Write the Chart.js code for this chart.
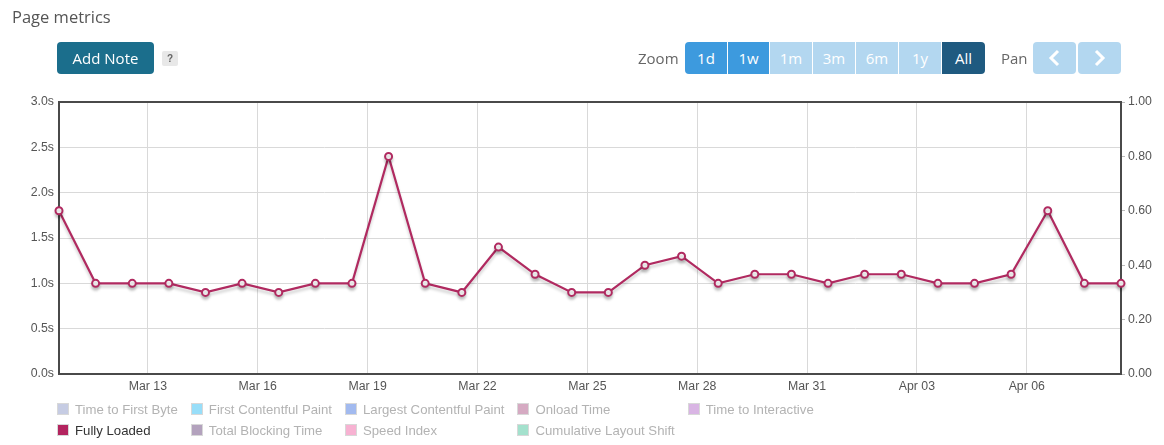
<!DOCTYPE html>
<html>
<head>
<meta charset="utf-8">
<script src="https://cdn.jsdelivr.net/npm/chart.js@4/dist/chart.umd.min.js"></script>
<style>
  html,body{margin:0;padding:0;background:#fff;}
  body{width:1164px;height:445px;position:relative;overflow:hidden;font-family:"Open Sans",sans-serif;}
  #c{position:absolute;left:0;top:0;width:1164px;height:445px;}
  .title{position:absolute;left:12px;top:5px;font-size:16.5px;color:#555;}
  .addnote{position:absolute;left:57px;top:42px;width:97px;height:32px;background:#1b6e8c;border-radius:4px;color:#fff;font-size:15px;line-height:32px;text-align:center;}
  .help{position:absolute;left:162px;top:51px;width:16px;height:15px;background:#e8e8e8;border-radius:2px;color:#666;font-size:10px;font-weight:bold;line-height:15px;text-align:center;font-family:"Liberation Sans",Arial,sans-serif;}
  .lbl{position:absolute;top:42px;height:32px;line-height:32px;font-size:15px;color:#666;}
  .zoom{position:absolute;left:685px;top:42px;height:32px;display:flex;border-radius:4px;overflow:hidden;}
  .zoom div{box-sizing:border-box;height:32px;line-height:32px;text-align:center;color:#fff;font-size:15px;border-left:1px solid #fff;}
  .zoom div:first-child{border-left:none;}
  .pan{position:absolute;top:42px;width:43px;height:32px;background:#b3d7f0;border-radius:4px;}
  .legend{position:absolute;left:57px;top:401px;display:grid;grid-template-columns:repeat(5,auto);justify-content:start;column-gap:13px;row-gap:5px;font-family:"Liberation Sans",Arial,sans-serif;font-size:13.2px;}
  .li{display:flex;align-items:center;height:16px;white-space:nowrap;color:#b3b3b3;}
  .li .sw{width:10px;height:10px;border:1px solid #d8d8d8;margin-right:6px;}
  .li.on{color:#333;}
</style>
</head>
<body>
<canvas id="c" width="1164" height="445"></canvas>
<div class="title">Page metrics</div>
<div class="addnote">Add Note</div>
<div class="help">?</div>
<div class="lbl" style="left:638px;">Zoom</div>
<div class="zoom" id="zoom"></div>
<div class="lbl" style="left:1001px;">Pan</div>
<div class="pan" style="left:1033px;"><svg width="43" height="32"><polyline points="25,9 18,16 25,23" fill="none" stroke="#fff" stroke-width="3"/></svg></div>
<div class="pan" style="left:1078px;"><svg width="43" height="32"><polyline points="18,9 25,16 18,23" fill="none" stroke="#fff" stroke-width="3"/></svg></div>
<div class="legend" id="legend"></div>
<script>
// ---- data ----
const dates = ["2024-03-10","2024-03-11","2024-03-12","2024-03-13","2024-03-14","2024-03-15","2024-03-16","2024-03-17","2024-03-18","2024-03-19",
               "2024-03-20","2024-03-21","2024-03-22","2024-03-23","2024-03-24","2024-03-25","2024-03-26","2024-03-27","2024-03-28","2024-03-29",
               "2024-03-30","2024-03-31","2024-04-01","2024-04-02","2024-04-03","2024-04-04","2024-04-05","2024-04-06","2024-04-07","2024-04-08"];
const testTime = "13:45";
const fullyLoaded = [1.8,1.0,1.0,1.0,0.9,1.0,0.9,1.0,1.0,2.4,
                     1.0,0.9,1.4,1.1,0.9,0.9,1.2,1.3,1.0,1.1,
                     1.1,1.0,1.1,1.1,1.0,1.0,1.1,1.8,1.0,1.0];
const tickDates = ["2024-03-13","2024-03-16","2024-03-19","2024-03-22","2024-03-25","2024-03-28","2024-03-31","2024-04-03","2024-04-06"];
const tickLabels = ["Mar 13","Mar 16","Mar 19","Mar 22","Mar 25","Mar 28","Mar 31","Apr 03","Apr 06"];
const leftTicks = [0,0.5,1.0,1.5,2.0,2.5,3.0];
const rightTicks = [0,0.2,0.4,0.6,0.8,1.0];
const legendNames = ["Time to First Byte","First Contentful Paint","Largest Contentful Paint","Onload Time","Time to Interactive",
                     "Fully Loaded","Total Blocking Time","Speed Index","Cumulative Layout Shift"];
const legendColors = ["#c6cce3","#98def9","#a2baef","#d5aac2","#d9b5e4","#b3245f","#b3a2bd","#f7b2d2","#a4e1cd"];
const legendActive = ["Fully Loaded"];
const zoomLabels = ["1d","1w","1m","3m","6m","1y","All"];
const zoomWidths = [42,42,43,43,43,43,44];
const zoomColors = ["#3d9ade","#3d9ade","#b3d7f0","#b3d7f0","#b3d7f0","#b3d7f0","#1f5a80"];

// ---- controls ----
const zoomEl = document.getElementById('zoom');
zoomLabels.forEach((t,i)=>{const d=document.createElement('div');d.textContent=t;d.style.width=zoomWidths[i]+'px';d.style.background=zoomColors[i];zoomEl.appendChild(d);});
const legEl = document.getElementById('legend');
legendNames.forEach((n,i)=>{
  const d=document.createElement('div');d.className='li'+(legendActive.includes(n)?' on':'');
  const s=document.createElement('span');s.className='sw';s.style.background=legendColors[i];
  d.appendChild(s);d.appendChild(document.createTextNode(n));
  legEl.appendChild(d);
});

// ---- chart ----
const base = Date.parse("2024-03-10T00:00:00Z");
const dayOf = s => (Date.parse(s+"Z") - base)/86400000;
const xs = dates.map(d => dayOf(d+"T"+testTime+":00"));
const tickXs = tickDates.map(d => dayOf(d+"T00:00:00"));
const points = xs.map((x,i)=>({x:x,y:fullyLoaded[i]}));

const borderPlugin = {
  id:'plotBorder',
  beforeDatasetsDraw(chart){
    const {ctx,chartArea:a}=chart;
    ctx.save();ctx.strokeStyle='#4a4a4a';ctx.lineWidth=2;
    ctx.strokeRect(a.left,a.top,a.right-a.left,a.bottom-a.top);ctx.restore();
    ctx.save();ctx.shadowColor='rgba(0,0,0,0.2)';ctx.shadowBlur=3;ctx.shadowOffsetY=3;
  },
  afterDatasetsDraw(chart){chart.ctx.restore();}
};

new Chart(document.getElementById('c'),{
  type:'line',
  data:{datasets:[{
    label:'Fully Loaded', data:points, yAxisID:'y',
    borderColor:'#b02a60', borderWidth:2.2, tension:0,
    pointRadius:3.5, pointBorderWidth:2, pointBackgroundColor:'#fff', pointBorderColor:'#b02a60',
    clip:false
  }]},
  options:{
    responsive:false, animation:false, events:[],
    layout:{padding:{top:102,bottom:46,left:1,right:0}},
    plugins:{legend:{display:false},tooltip:{enabled:false}},
    scales:{
      x:{type:'linear', min:xs[0], max:xs[xs.length-1],
         afterBuildTicks(s){s.ticks=tickXs.map(v=>({value:v}));},
         afterFit(s){s.height=25;},
         ticks:{callback:(v)=>{const i=tickXs.findIndex(t=>Math.abs(t-v)<1e-6);return i>=0?tickLabels[i]:'';},
                color:'#555',font:{family:'"Liberation Sans", Arial, sans-serif',size:12.3},padding:5,maxRotation:0,autoSkip:false},
         grid:{color:'#d9d9d9',drawTicks:false}, border:{display:false}},
      y:{position:'left', min:0, max:3,
         afterBuildTicks(s){s.ticks=leftTicks.map(v=>({value:v}));},
         afterFit(s){s.width=58;},
         ticks:{callback:v=>v.toFixed(1)+'s',color:'#555',font:{family:'"Liberation Sans", Arial, sans-serif',size:12.3},padding:5},
         grid:{color:'#d9d9d9',drawTicks:false}, border:{display:false}},
      y1:{position:'right', min:0, max:1,
         afterBuildTicks(s){s.ticks=rightTicks.map(v=>({value:v}));},
         afterFit(s){s.width=43;},
         ticks:{callback:v=>v.toFixed(2),color:'#555',font:{family:'"Liberation Sans", Arial, sans-serif',size:12.3},padding:3},
         grid:{drawOnChartArea:false,color:'#bbb',tickLength:4}, border:{display:false}}
    }
  },
  plugins:[borderPlugin]
});
</script>
</body>
</html>
